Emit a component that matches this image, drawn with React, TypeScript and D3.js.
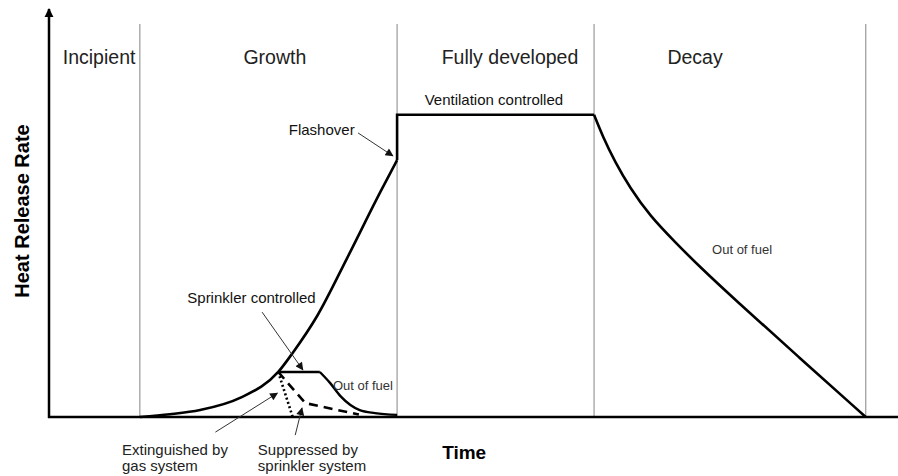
import React from 'react';
import * as d3 from 'd3';

// time (0-100) vs heat release rate (0-100 = ventilation controlled plateau)
const phaseBounds = [10.7, 41, 64.2, 96.2];
const phaseNames = ['Incipient', 'Growth', 'Fully developed', 'Decay'];
const phaseLabelT = [5.9, 26.6, 54.3, 76.1];

const growthCurve: [number, number][] = [
  [10.7, 0], [14.25, 0.9], [17.8, 2.3], [22.5, 6.3], [27.0, 14.9], [28.7, 21.2],
  [31.6, 33.5], [35.1, 52.5], [39.0, 74.3], [41.0, 85],
];
const flashoverJump: [number, number][] = [[41.0, 85], [41.0, 100], [64.2, 100]];
const decayCurve: [number, number][] = [
  [64.2, 100], [65.25, 92.65], [66.67, 84.4], [68.43, 75.8], [70.79, 66.5],
  [73.73, 57.9], [76.68, 49.6], [80.57, 39.4], [88.4, 19.6], [96.2, 0],
];
const sprinklerPlateau: [number, number][] = [[27.0, 14.9], [31.9, 14.9]];
const sprinklerOutOfFuel: [number, number][] = [
  [31.9, 14.9], [33.1, 11.3], [34.3, 7], [35.5, 4], [36.6, 2.3], [38.4, 1.3], [41, 0.7],
];
const gasExtinguished: [number, number][] = [[27.0, 14.9], [28.7, 0]];
const sprinklerSuppressed: [number, number][] = [[27.0, 14.9], [30.2, 4.6], [36.5, 0.8]];

// annotation arrows: [from, to]
const arrows: [number, number, number, number][] = [
  [36.4, 94, 40.5, 86.4],
  [25.1, 34.7, 29.9, 15.6],
  [19.6, -5, 26.9, 7.9],
  [29.0, -6, 29.8, 3],
];

const width = 898;
const height = 476;

export default function App() {
  const x = d3.scaleLinear().domain([0, 100]).range([49, 898]);
  const y = d3.scaleLinear().domain([0, 135]).range([417, 9]);

  const smooth = d3.line<[number, number]>()
    .x(d => x(d[0]))
    .y(d => y(d[1]))
    .curve(d3.curveMonotoneX);
  const basis = d3.line<[number, number]>()
    .x(d => x(d[0]))
    .y(d => y(d[1]))
    .curve(d3.curveBasis);
  const straight = d3.line<[number, number]>()
    .x(d => x(d[0]))
    .y(d => y(d[1]));

  const font = 'Liberation Sans, Arial, sans-serif';

  return (
    <svg width={width} height={height} style={{ position: 'absolute', left: 0, top: 0, background: '#fff' }} fontFamily={font}>
      <defs>
        <marker id="axisHead" viewBox="0 0 10 10" refX="9" refY="5" markerWidth="9" markerHeight="11"
          markerUnits="userSpaceOnUse" orient="auto">
          <path d="M0,0 L10,5 L0,10 z" fill="#000" />
        </marker>
        <marker id="thinHead" viewBox="0 0 10 10" refX="9" refY="5" markerWidth="10" markerHeight="8"
          markerUnits="userSpaceOnUse" orient="auto">
          <path d="M0,0 L10,5 L0,10 z" fill="#111" />
        </marker>
      </defs>

      {/* phase dividers */}
      {phaseBounds.map((b, i) => (
        <line key={'b' + i} x1={x(b)} x2={x(b)} y1={24} y2={y(0)} stroke="#999" strokeWidth={1.2} />
      ))}

      {/* axes */}
      <line x1={x(0)} x2={x(0)} y1={y(0) + 1} y2={y(135)} stroke="#000" strokeWidth={2.5} markerEnd="url(#axisHead)" />
      <line x1={x(0) - 1} x2={x(100)} y1={y(0)} y2={y(0)} stroke="#000" strokeWidth={2.5} />

      {/* phase labels */}
      {phaseNames.map((n, i) => (
        <text key={n} x={x(phaseLabelT[i])} y={y(116.8)} textAnchor="middle" fontSize={19.5} fill="#222">{n}</text>
      ))}

      {/* main curves */}
      <path d={smooth(growthCurve) ?? ''} fill="none" stroke="#000" strokeWidth={2.6} />
      <path d={straight(flashoverJump) ?? ''} fill="none" stroke="#000" strokeWidth={2.6} />
      <path d={basis(decayCurve) ?? ''} fill="none" stroke="#000" strokeWidth={2.6} />
      <path d={straight(sprinklerPlateau) ?? ''} fill="none" stroke="#000" strokeWidth={2.4} />
      <path d={smooth(sprinklerOutOfFuel) ?? ''} fill="none" stroke="#000" strokeWidth={2.4} />
      <path d={straight(gasExtinguished) ?? ''} fill="none" stroke="#000" strokeWidth={2.6} strokeDasharray="2,2.5" />
      <path d={straight(sprinklerSuppressed) ?? ''} fill="none" stroke="#000" strokeWidth={2.6} strokeDasharray="9,6" />

      {/* annotation arrows */}
      {arrows.map((a, i) => (
        <line key={'a' + i} x1={x(a[0])} y1={y(a[1])} x2={x(a[2])} y2={y(a[3])}
          stroke="#333" strokeWidth={1} markerEnd="url(#thinHead)" />
      ))}

      {/* annotation text */}
      <text x={x(52.4)} y={y(103.2)} textAnchor="middle" fontSize={15} fill="#111">Ventilation controlled</text>
      <text x={x(36.0)} y={y(93.3)} textAnchor="end" fontSize={15} fill="#111">Flashover</text>
      <text x={x(23.85)} y={y(37.7)} textAnchor="middle" fontSize={15} fill="#111">Sprinkler controlled</text>
      <text x={x(33.45)} y={y(8.9)} fontSize={13} fill="#333">Out of fuel</text>
      <text x={x(78.1)} y={y(53.9)} fontSize={13} fill="#333">Out of fuel</text>
      <text x={x(8.6)} y={y(-12.6)} fontSize={15} fill="#222">Extinguished by</text>
      <text x={x(8.6)} y={y(-17.9)} fontSize={15} fill="#222">gas system</text>
      <text x={x(24.6)} y={y(-12.6)} fontSize={15} fill="#222">Suppressed by</text>
      <text x={x(24.6)} y={y(-17.9)} fontSize={15} fill="#222">sprinkler system</text>

      {/* axis titles */}
      <text x={x(48.9)} y={y(-13.9)} textAnchor="middle" fontSize={19} fontWeight="bold" fill="#000">Time</text>
      <text transform={`translate(${29},${211}) rotate(-90)`} textAnchor="middle" fontSize={20} fontWeight="bold" fill="#000">Heat Release Rate</text>
    </svg>
  );
}
